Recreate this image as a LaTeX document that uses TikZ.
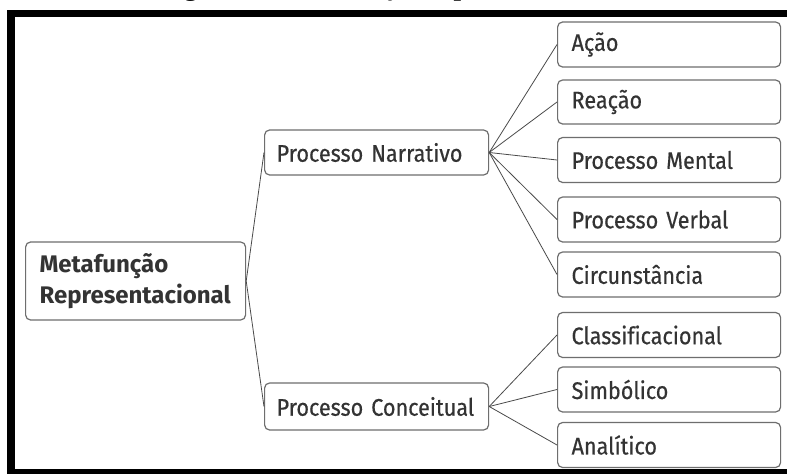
\documentclass[tikz,border=0pt]{standalone}
\usepackage{fontspec}
\setmainfont{Fira Sans}[FakeStretch=0.9, FakeBold=0.5, Ligatures=NoCommon]
\newfontfamily\rootfont{Fira Sans}[Ligatures=NoCommon]
\newfontfamily\capfont{Liberation Serif}
\definecolor{boxline}{HTML}{6E6E6E}
\definecolor{wire}{HTML}{4A4A4A}
\definecolor{ink}{HTML}{333333}
\begin{document}
\begin{tikzpicture}[x=1pt,y=-1pt,
  box/.style={draw=boxline, line width=1.2pt, rounded corners=5pt, fill=white,
    inner xsep=12pt, inner ysep=0pt, text=ink, anchor=west, align=left,
    minimum height=45pt, font=\fontsize{24}{28}\selectfont},
  midbox/.style={box, text width=200pt},
  leafbox/.style={box, inner xsep=14pt, text width=195pt},
  rootbox/.style={box, inner xsep=14pt, text width=192pt, minimum height=78pt,
    font=\rootfont\bfseries\fontsize{24}{31}\selectfont},
  link/.style={draw=wire, line width=0.8pt},
  frame/.style={fill=black}]
\useasboundingbox (0,0) rectangle (787,474);
\fill[white] (0,0) rectangle (787,474);

% caption line cut by the page frame
\begin{scope}
  \clip (0,0) rectangle (787,474);
  \node[anchor=base west, inner sep=0pt, font=\capfont\bfseries\fontsize{27}{30}\selectfont]
    (caption) at (160,-5) {Figura 1 – Metafunção representacional};
\end{scope}

% page frame
\fill[frame] (7,10) rectangle (15,474);
\fill[frame] (7,10) rectangle (787,17);
\fill[frame] (7,469) rectangle (787,474);

% root
\node[rootbox] (root) at (25,281) {Metafunção\\Representacional};

% processes
\node[midbox] (narr) at (264,152.5) {Processo Narrativo};
\node[midbox, minimum height=47pt] (conc) at (264,406.5) {Processo Conceitual};

% narrative kinds
\node[leafbox] (acao)  at (557,44.5)  {Ação};
\node[leafbox, minimum height=44pt] (reacao) at (557,102) {Reação};
\node[leafbox] (mental) at (557,160) {Processo Mental};
\node[leafbox] (verbal) at (557,219.5) {Processo Verbal};
\node[leafbox] (circ)  at (557,274.5) {Circunstância};

% conceptual kinds
\node[leafbox] (class) at (557,335) {Classificacional};
\node[leafbox] (simb)  at (557,389.5) {Simbólico};
\node[leafbox] (anal)  at (557,445) {Analítico};

% connectors
\draw[link] (root.east) -- (narr.west);
\draw[link] (root.east) -- (conc.west);
\foreach \n in {acao,reacao,mental,verbal,circ}
  \draw[link] (narr.east) -- (\n.west);
\foreach \n in {class,simb,anal}
  \draw[link] (conc.east) -- (\n.west);
\end{tikzpicture}
\end{document}
